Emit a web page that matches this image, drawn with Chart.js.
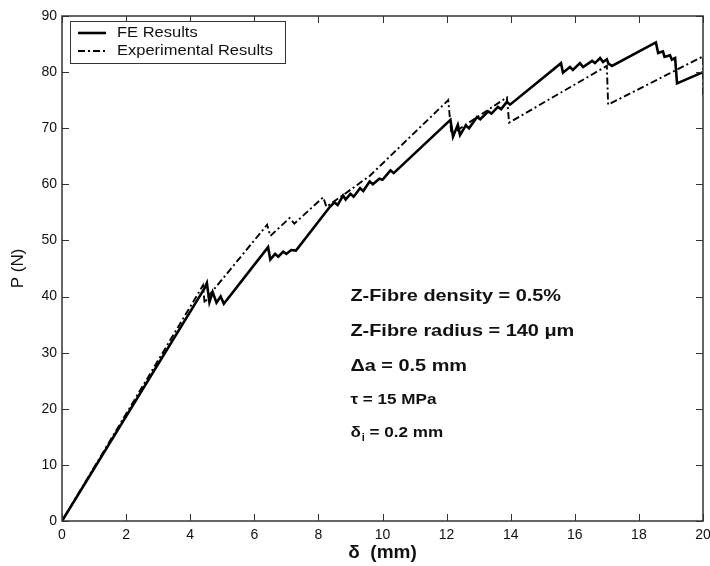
<!DOCTYPE html>
<html>
<head>
<meta charset="utf-8">
<script src="https://cdn.jsdelivr.net/npm/chart.js@4.4.1/dist/chart.umd.min.js"></script>
<style>
  html, body { margin: 0; padding: 0; background: #fff; }
  #wrap { width: 710px; height: 566px; }
</style>
</head>
<body>
<div id="wrap"><canvas id="pd" width="710" height="566"></canvas></div>
<script>
// load-displacement curves
const feX = [0, 4.45, 4.52, 4.6, 4.7, 4.82, 4.95, 5.05, 6.43, 6.5, 6.65, 6.75, 6.9, 7.0, 7.15, 7.3,
  8.36, 8.5, 8.6, 8.77, 8.85, 9.0, 9.1, 9.3, 9.4, 9.6, 9.7, 9.9, 10.0, 10.25, 10.35,
  12.12, 12.2, 12.35, 12.42, 12.6, 12.7, 12.95, 13.05, 13.3, 13.4, 13.6, 13.7, 13.88, 13.98,
  15.57, 15.63, 15.85, 15.94, 16.16, 16.26, 16.54, 16.63, 16.79, 16.88, 17.0, 17.05, 17.16,
  18.53, 18.6, 18.75, 18.8, 18.97, 19.03, 19.13, 19.19, 20];
const feY = [0, 41.5, 42.4, 39, 40.8, 38.9, 40, 38.7, 48.8, 46.6, 47.6, 47.1, 48, 47.6, 48.3, 48.2,
  56, 56.8, 56.3, 58, 57.3, 58.3, 57.8, 59.3, 58.8, 60.5, 60, 61, 60.8, 62.5, 62,
  71.5, 68.5, 70.6, 68.8, 70.5, 70, 72, 71.6, 73, 72.6, 73.8, 73.4, 74.7, 74.2,
  81.6, 79.9, 80.9, 80.4, 81.6, 80.9, 82, 81.6, 82.5, 81.8, 82.3, 81.5, 81.1,
  85.3, 83.4, 83.7, 82.7, 83, 82.2, 82.5, 78, 80];

const expX = [0, 4.4, 4.45, 4.6, 6.4, 6.5, 7.1, 7.25, 8.15, 8.25, 8.8, 9.6, 12.05, 12.15, 12.3,
  13.88, 13.95, 17.0, 17.04, 20, 20];
const expY = [0, 42, 38.8, 40.3, 52.8, 50.8, 54, 53, 57.7, 56, 58.2, 61.5, 75, 69, 69.5,
  75.5, 71, 81.1, 74.2, 82.8, 76];

const xTicks = [0, 2, 4, 6, 8, 10, 12, 14, 16, 18, 20];
const yTicks = [0, 10, 20, 30, 40, 50, 60, 70, 80, 90];

const seriesNames = ['FE Results', 'Experimental Results'];
const notes = ['Z-Fibre density = 0.5%', 'Z-Fibre radius = 140 \u03bcm', '\u0394a = 0.5 mm', '\u03c4 = 15 MPa'];
const noteLevels = [40, 33.8, 27.5, 21.6, 15.7];

const FONT = '"Liberation Sans", Arial, sans-serif';

function pts(xs, ys) {
  return xs.map((x, i) => ({ x: x, y: ys[i] }));
}

// text in the figure is a bit wider than Arial, so stretch it
function wideText(ctx, text, x, y, sx) {
  ctx.save();
  ctx.translate(x, y);
  ctx.scale(sx, 1);
  ctx.fillText(text, 0, 0);
  ctx.restore();
  return ctx.measureText(text).width * sx;
}

// box round the plot with ticks pointing inwards, matlab style
const boxPlugin = {
  id: 'box',
  afterDatasetsDraw(chart) {
    const { ctx, chartArea: a, scales } = chart;
    ctx.save();
    ctx.strokeStyle = '#333';
    ctx.lineWidth = 1.5;
    ctx.strokeRect(a.left, a.top, a.right - a.left, a.bottom - a.top);
    ctx.lineWidth = 1;
    ctx.beginPath();
    xTicks.forEach(v => {
      const px = Math.round(scales.x.getPixelForValue(v)) + 0.5;
      ctx.moveTo(px, a.bottom); ctx.lineTo(px, a.bottom - 7);
      ctx.moveTo(px, a.top); ctx.lineTo(px, a.top + 7);
    });
    yTicks.forEach(v => {
      const py = Math.round(scales.y.getPixelForValue(v)) + 0.5;
      ctx.moveTo(a.left, py); ctx.lineTo(a.left + 7, py);
      ctx.moveTo(a.right, py); ctx.lineTo(a.right - 7, py);
    });
    ctx.stroke();
    ctx.restore();
  },
  afterDraw(chart) {
    const { ctx, chartArea: a, scales } = chart;
    ctx.save();

    // legend box
    const lx = a.left + 8, ly = a.top + 5, lw = 215, lh = 42;
    ctx.fillStyle = '#fff';
    ctx.fillRect(lx, ly, lw, lh);
    ctx.strokeStyle = '#333';
    ctx.lineWidth = 1;
    ctx.strokeRect(lx + 0.5, ly + 0.5, lw, lh);
    ctx.font = '15px ' + FONT;
    ctx.textBaseline = 'middle';
    ctx.fillStyle = '#111';
    chart.data.datasets.forEach((ds, i) => {
      const y = ly + 12 + i * 18;
      ctx.beginPath();
      ctx.strokeStyle = '#000';
      ctx.lineWidth = ds.borderWidth;
      ctx.setLineDash(ds.borderDash || []);
      ctx.moveTo(lx + 8, y); ctx.lineTo(lx + 36, y);
      ctx.stroke();
      ctx.setLineDash([]);
      wideText(ctx, seriesNames[i], lx + 47, y, 1.1);
    });

    // parameter notes
    const nx = scales.x.getPixelForValue(9);
    ctx.fillStyle = '#111';
    notes.forEach((t, i) => {
      const big = i < 3;
      ctx.font = (big ? 'bold 17px ' : 'bold 14px ') + FONT;
      wideText(ctx, t, nx, scales.y.getPixelForValue(noteLevels[i]), big ? 1.17 : 1.22);
    });
    const dy = scales.y.getPixelForValue(noteLevels[4]);
    ctx.font = 'bold 14px ' + FONT;
    let w = wideText(ctx, '\u03b4', nx, dy, 1.22);
    ctx.font = 'bold 10px ' + FONT;
    w += wideText(ctx, 'i', nx + w + 1, dy + 5, 1.1) + 1;
    ctx.font = 'bold 14px ' + FONT;
    wideText(ctx, ' = 0.2 mm', nx + w, dy, 1.22);
    ctx.restore();
  }
};

new Chart(document.getElementById('pd'), {
  type: 'scatter',
  data: {
    datasets: [
      {
        label: seriesNames[0],
        data: pts(feX, feY),
        showLine: true,
        borderColor: '#000',
        borderWidth: 2.6,
        pointRadius: 0,
        tension: 0
      },
      {
        label: seriesNames[1],
        data: pts(expX, expY),
        showLine: true,
        borderColor: '#000',
        borderWidth: 1.9,
        borderDash: [7, 3, 2, 3],
        pointRadius: 0,
        tension: 0
      }
    ]
  },
  options: {
    responsive: false,
    animation: false,
    devicePixelRatio: 1,
    layout: { padding: { top: 16, right: 0, left: 0, bottom: 0 } },
    plugins: {
      legend: { display: false },
      tooltip: { enabled: false }
    },
    scales: {
      x: {
        type: 'linear',
        min: 0, max: 20,
        afterFit(s) { s.height = 45; s.paddingLeft = 0; s.paddingRight = 7; },
        afterBuildTicks(s) { s.ticks = xTicks.map(v => ({ value: v })); },
        grid: { display: false, drawTicks: false },
        border: { display: false },
        ticks: { color: '#111', padding: 6, font: { family: FONT, size: 14 } },
        title: {
          display: true, text: '\u03b4  (mm)', color: '#111',
          font: { family: FONT, size: 19, weight: 'bold' },
          padding: { top: 0, bottom: 2 }
        }
      },
      y: {
        type: 'linear',
        min: 0, max: 90,
        afterFit(s) { s.width = 62; },
        afterBuildTicks(s) { s.ticks = yTicks.map(v => ({ value: v })); },
        grid: { display: false, drawTicks: false },
        border: { display: false },
        ticks: { color: '#111', padding: 5, font: { family: FONT, size: 14 } },
        title: {
          display: true, text: 'P (N)', color: '#111',
          font: { family: FONT, size: 17 },
          padding: { top: 8, bottom: 0 }
        }
      }
    }
  },
  plugins: [boxPlugin]
});
</script>
</body>
</html>
